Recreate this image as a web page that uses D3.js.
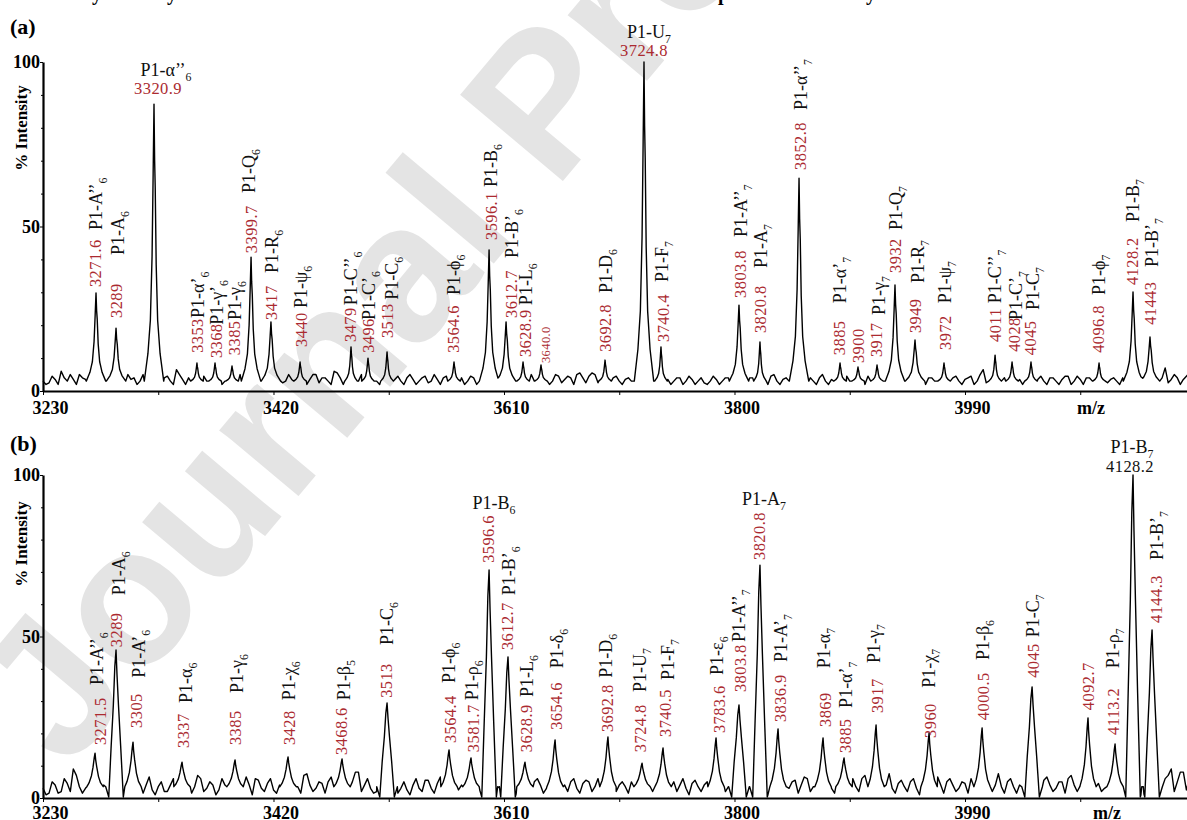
<!DOCTYPE html>
<html><head><meta charset="utf-8">
<script src="https://cdn.jsdelivr.net/npm/d3@7"></script>
<style>
html,body{margin:0;padding:0;background:#fff;}
svg{display:block;}
</style></head><body>
<svg id="chart" width="1187" height="820"></svg>
<script>
// ================= DATA =================
const mzMajorTicks = [3230, 3420, 3610, 3800, 3990];
const mzMinorTicks = [3325, 3515, 3705, 3895, 4085];
const intensityTicks = [0, 50, 100];
const intensityMinorTicks = [10, 20, 30, 40, 60, 70, 80, 90];

// baseline (noise) samples, every 5 m/z from 3230, plus the in-between samples (3232.5, 3237.5, ...)
const baselineStart = 3230, baselineStep = 5;
const baselineA = [
 3,2.5,3.5,6,3,3.5,5,3.5,4,3,
 3.5,3,4,3,5,4,3,4,3,3.5,
 4,3,6.5,3.5,4,3,5.5,3,4,3.5,
 3,4,3.5,4,3,3.5,4,3,3.5,4,
 3,3.5,4,3,3.5,5,4,3,6,4,
 3.5,4,3,3.5,4,3,4,3,3.5,3,
 4,3.5,3,4.5,3,3.5,4,3,3.5,4,
 3,4,3.5,3,4,3,3.5,4,3,3.5,
 4,3,3.5,4,3,4.5,3.5,4,5,4,
 4.5,5,4,3.5,4,3,3.5,3,4,3,
 3.5,4,3,3.5,3,4,3,3.5,3,2.5,
 3,3.5,3,4,3,3.5,3,4,3,3.5,
 4.5,3,3.5,3,4,3,3.5,3,4,3,
 3.5,3,4,3,3.5,3,4.5,3,3.5,4,
 3,3.5,4,3,3.5,3,4,3,3.5,3,
 4,3,3.5,4.5,3,6.5,4,3,3.5,4,
 3,3.5,4,3,3.5,3,4,3,3.5,4.5,
 3,3.5,4,3,4,5.5,3.5,3,4,3,
 3.5,4,3,3.5,4,7,3.5,4,3.5,5.5
];
const baselineMidA = [
 2,4.5,2,4,5,2,4,2.5,5,2,
 5,2,4.5,2,3.5,2,5,2,4.5,2,
 4.5,2,5,2,4,2.5,4.5,2,5,2,
 4.5,2,5,2.5,4.5,2,5,2,4,2.5,
 5,2,4.5,2,5,2.5,4,2,5.5,2,
 4.5,2,5,2,4,2,5,2.5,4.5,2,
 5,2,4,2.5,5,2,4.5,2,5,2,
 4.5,2,5,2,4,2.5,5,2,4.5,2,
 5,2,4.5,2,5,2.5,4.5,2,5.5,2.5,
 5.5,2.5,5,2,4.5,2,4,2,4.5,2,
 4,2,5,2,4,2,4.5,2,4,2,
 4.5,2,4,2,4.5,2,4,2.5,4.5,2,
 5,2,4,2,4.5,2,4,2,5,2,
 4,2,4.5,2,4,2,5,2,4.5,2,
 4.5,2,4,2,5,2,4,2,4.5,2,
 4.5,2,4,2,5,2.5,4.5,2,4,2.5,
 4,2,5,2,4.5,2,4,2,4.5,2,
 4.5,2,4,2,5,2.5,4,2,4.5,2,
 4,2,4.5,2,4,2.5,5,2,4.5,3
];
const baselineB = [
 3,1.5,4,2,4.5,9,3.5,3,5,3,
 4,3,4.5,3,2,5,3,4,2.5,3.5,
 2,4,3,5,2.5,3.5,6,3,4,2.5,
 4,3,5,2.5,4,6,3,4.5,2.5,4,
 3,5,3.5,7,4,3,4.5,5,8,4,
 6.5,5,8,4,3,2,4,3,5,3,
 2.5,4,3,5.5,3,4.5,6,5,7,4,
 5,6,4,3,4,3,3.5,6,4.5,5,
 3.5,5,4,3,4.5,7,4,5,3,4.5,
 5,3.5,4,5,3,4,3.5,5,4,6,
 5,6,4,3.5,5,4,3,4.5,3.5,4,
 3,5,4,3.5,4,5,3,4,3,5,
 4,7,5,3,5.5,4,6,3.5,4,5,
 3,4.5,3,5,3.5,6,4,3,7,4,
 3,4.5,3.5,5,3,4,6,3.5,4,5,
 4,3,4.5,6,3,5,7,4,3.5,5,
 3.5,4,3,4.5,3,5.5,4,3,5,6,
 4,5,3.5,6,4.5,3,4,5,3,4,
 3,4,2.5,4.5,3,6,9,5,8,6
];
const baselineMidB = [
 1,5,1.5,6,2,7,1.5,5,2,6,
 1.5,5.5,1,6,2,5,1.5,6.5,1,5,
 2,6,1,5.5,1.5,7,2,5,1,6,
 1.5,5,2,6.5,1,5.5,2,6,1.5,5,
 2,6,1.5,7.5,2,5,1.5,6.5,2,7,
 2.5,8,2,6,1.5,5,1,6,1.5,5,
 1,6,2,5.5,1.5,6.5,2,7,2.5,6,
 2,7,2,5,1.5,5.5,2,6.5,1.5,6,
 2,6,1.5,5,2,7.5,2,6,1.5,5.5,
 2,6,1.5,6.5,2,5,1.5,6,2,7,
 2,7,1.5,5.5,2,6,1,5.5,2,5,
 1.5,6,2,5,1.5,6,1,5,1.5,6,
 2,7.5,2,5,1.5,6.5,2,5,1.5,6,
 1.5,5.5,1,6,2,7,1.5,5,2,7.5,
 1.5,5.5,2,6,1,5,2,6.5,1.5,6,
 2,5,1.5,7,1.5,6,2,7.5,1.5,6,
 1.5,5,1,6,1.5,6.5,2,5,1.5,7,
 2,6.5,2,7,2,5,1.5,6,1,5.5,
 1.5,5,1,6,1.5,7,2,8,2.5,7
];

// Panel (a) peaks
const peakMzA  = [3273.7,3290.2,3321.5,3356.9,3371.8,3385.8,3401.5,3417.9,3441.9,3483.9,3497.9,3513.6,3568.8,3597.7,3611.7,3625.7,3640.5,3693.3,3725.4,3739.4,3803.7,3821.0,3853.2,3887.0,3901.8,3917.5,3932.3,3948.8,3972.7,4014.8,4028.8,4044.4,4100.5,4128.5,4142.5];
const peakIntA = [29.8,19.1,87.2,8.5,8.5,7.6,40.7,21.0,8.8,13.4,10.0,11.9,8.8,42.9,21.0,8.8,7.9,9.4,100,13.4,26.1,14.9,64.7,8.5,7.3,7.9,32.2,15.5,8.5,10.9,8.8,8.8,8.5,30.1,16.4];
const peakValueA = ["3271.6","3289","3320.9","3353","3368","3385","3399.7","3417","3440","3479","3496","3513","3564.6","3596.1","3612.7","3628.9","3640.0","3692.8","3724.8","3740.4","3803.8","3820.8","3852.8","3885","3900","3917","3932","3949","3972","4011","4028","4045","4096.8","4128.2","41443"];
const peakNameA = ["P1-A’’_6","P1-A_6","P1-α’’_6","P1-α’_6","P1-γ’_6","P1-γ_6","P1-Q_6","P1-R_6","P1-ψ_6","P1-C’’_6","P1-C’_6","P1-C_6","P1-ϕ_6","P1-B_6","P1-B’_6","P1-L_6","","P1-D_6","P1-U_7","P1-F_7","P1-A’’_7","P1-A_7","P1-α’’_7","P1-α’_7","","P1-γ_7","P1-Q_7","P1-R_7","P1-ψ_7","P1-C’’_7","P1-C’_7","P1-C_7","P1-ϕ_7","P1-B_7","P1-B’_7"];

// Panel (b) peaks
const peakMzB  = [3272.9,3290.2,3304.2,3344.6,3388.3,3432.0,3476.5,3513.6,3564.7,3582.8,3597.7,3613.3,3627.3,3652.1,3695.7,3723.8,3741.1,3784.8,3803.7,3821.0,3835.9,3873.0,3890.3,3916.7,3960.4,4004.1,4045.3,4091.4,4113.7,4128.5,4144.2];
const peakIntB = [13.9,45.8,17.3,11.1,11.8,12.7,12.1,29.4,14.9,12.4,70.6,43.7,11.1,18.0,18.9,10.8,15.5,18.6,28.8,72.1,21.4,18.6,12.4,22.6,20.1,21.7,34.4,24.8,16.7,100,52.0];
const peakValueB = ["3271.5","3289","3305","3337","3385","3428","3468.6","3513","3564.4","3581.7","3596.6","3612.7","3628.9","3654.6","3692.8","3724.8","3740.5","3783.6","3803.8","3820.8","3836.9","3869","3885","3917","3960","4000.5","4045","4092.7","4113.2","4128.2","4144.3"];
const peakNameB = ["P1-A’’_6","P1-A_6","P1-A’_6","P1-α_6","P1-γ_6","P1-χ_6","P1-β_5","P1-C_6","P1-ϕ_6","P1-ρ_6","P1-B_6","P1-B’_6","P1-L_6","P1-δ_6","P1-D_6","P1-U_7","P1-F_7","P1-ε_6","P1-A’’_7","P1-A_7","P1-A’_7","P1-α_7","P1-α’_7","P1-γ_7","P1-χ_7","P1-β_6","P1-C_7","","P1-ρ_7","P1-B_7","P1-B’_7"];

// ================= LAYOUT (label placement, separate from data) =================
// [value-label bottom (% units), name-label bottom (% units), value dx px, name dx px, mode, option]
const labelLayoutA = [
 [31.6,48.9,0,0],[22.2,41.3,1,2],[90.3,95.7,4,12,'h'],[11.6,22.2,1,1],[10.0,20.1,2,2],
 [10.9,21.6,3,3],[41.9,60.2,0,-2],[21.6,35.9,1,1],[13.4,25.2,1,1],[14.9,26.1,0,0],
 [11.6,21.6,1,1],[16.1,27.7,1,5],[11.6,29.2,0,0],[45.9,62.0,2,2],[22.2,40.4,5,6],
 [10.3,26.1,3,3],[8.5,null,5,0,'v','small'],[11.9,29.8,1,1],[101.8,107.3,0,5,'h'],[14.9,33.1,3,1],
 [28.3,46.8,2,2],[17.6,37.4,1,1],[67.2,85.4,2,2],[10.9,26.7,0,0],[8.5,null,1,0],
 [10.3,23.1,0,2],[35.9,48.9,1,1],[17.6,32.8,1,3],[12.5,26.7,2,1],[14.9,26.7,0,0],
 [11.9,21.6,2,4],[10.9,24.6,0,2],[11.6,29.2,0,0],[32.2,51.4,0,0],[20.1,37.7,1,2]
];
const labelLayoutB = [
 [16.4,35.0,6,2],[46.7,62.8,1,3],[21.7,37.2,4,6],[15.5,29.4,2,4],[16.4,32.5,1,2],
 [16.4,30.3,1,1],[13.3,30.3,0,2],[31.0,47.4,0,0],[17.0,35.6,2,0],[14.2,30.3,3,1],
 [72.8,89.5,-1,5,'vh'],[45.8,62.8,0,1],[14.2,31.3,2,2],[21.1,40.2,1,2],[20.4,37.2,0,-2],
 [14.2,32.8,-1,-2],[18.9,36.5,3,5],[20.1,38.1,3,1],[32.8,48.3,2,0],[73.7,90.7,0,4,'vh'],
 [23.5,42.1,3,3],[22.0,40.2,2,1],[13.9,27.9,2,2],[26.3,41.8,1,-2],[18.6,34.1,1,0],
 [24.1,42.7,1,1],[37.2,49.8,1,1],[27.2,null,1,0],[19.5,40.2,-2,-2],[100.9,106.8,-3,-1,'h','black'],
 [54.2,73.7,4,5]
];

// ================= DRAWING =================
const svg = d3.select('#chart');
const SERIF = "'Liberation Serif','Times New Roman',Times,serif";
const RED = '#ab2a30';

// watermark
svg.append('text')
  .attr('transform', 'translate(67,772) rotate(-50)')
  .attr('font-family', "'Liberation Sans',Arial,sans-serif")
  .attr('font-weight', 'bold')
  .attr('font-size', 195)
  .attr('fill', '#e4e4e4')
  .text('Journal Pre-proof');

// cut-off text line at the very top (only descenders visible)
[[92,'y'],[167,'y'],[718,'p'],[866,'y']].forEach(([tx,ch]) => {
  svg.append('text').attr('x', tx).attr('y', 0).attr('font-family', SERIF)
    .attr('font-weight', 'bold').attr('font-size', 20).attr('fill', '#000').text(ch);
});

const x = d3.scaleLinear().domain([3230, 4173]).range([43, 1187]);

const tmplA = [[-8,0],[-5,0.1],[-3,0.22],[-1.6,0.45],[-0.7,0.75],[0,1],[0.5,0.8],[1,0.7],[1.8,0.42],[3,0.22],[5,0.1],[8,0]];
const tmplB = [[-9,0],[-6.5,0.12],[-4,0.32],[-2.2,0.58],[-0.9,0.86],[0,1],[0.7,0.8],[1.8,0.6],[3.8,0.3],[6,0.12],[9,0]];
const tmplBbig = [[-8.5,0],[-6,'dip'],[-4,0.3],[-2.2,0.6],[-1,0.88],[0,1],[0.8,0.82],[2,0.6],[3.8,0.3],[6,'dip'],[8.5,0]];

function shapeA(m, h, base) {
  const s = h < 15 ? 0.65 : 1;
  return tmplA.map(([o, f]) => [m + o * s, base + f * (h - base)]);
}
function shapeB(m, h, base) {
  if (h >= 25) return tmplBbig.map(([o, f]) => [m + o, f === 'dip' ? 0.3 : base + f * (h - base)]);
  const s = 0.75;
  return tmplB.map(([o, f]) => [m + o * s, base + f * (h - base)]);
}

function buildTrace(peakMz, peakInt, baseline, baselineMid, base, shapeFn) {
  const shapes = peakMz.map((m, i) => shapeFn(m, peakInt[i], base));
  const evalShape = (pts, m) => {
    if (m < pts[0][0] || m > pts[pts.length - 1][0]) return null;
    for (let k = 1; k < pts.length; k++) {
      if (m <= pts[k][0]) {
        const [x0, y0] = pts[k - 1], [x1, y1] = pts[k];
        return x1 === x0 ? y1 : y0 + (y1 - y0) * (m - x0) / (x1 - x0);
      }
    }
    return pts[pts.length - 1][1];
  };
  const cand = [];
  baseline.forEach((v, i) => cand.push({ m: baselineStart + i * baselineStep, v }));
  baselineMid.forEach((v, i) => cand.push({ m: baselineStart + (i + 0.5) * baselineStep, v }));
  shapes.forEach(pts => pts.forEach(p => cand.push({ m: p[0], v: null })));
  cand.sort((a, b) => a.m - b.m);
  const out = [];
  cand.forEach(c => {
    let best = null;
    shapes.forEach(pts => { const v = evalShape(pts, c.m); if (v !== null && (best === null || v > best)) best = v; });
    if (best !== null) out.push([c.m, best]);
    else if (c.v !== null) out.push([c.m, c.v]);
  });
  return out;
}

function rotLabel(g, cx, yb, main, sub, size, color, ls) {
  const t = g.append('text')
    .attr('transform', `translate(${cx + 0.33 * size},${yb}) rotate(-90)`)
    .attr('font-family', SERIF).attr('font-size', size).attr('fill', color);
  if (ls) t.attr('letter-spacing', ls);
  t.append('tspan').text(main);
  if (sub) t.append('tspan').attr('dy', size * 0.28).attr('font-size', size * 0.66).text(sub);
}
function horLabel(g, cx, yb, main, sub, size, color, ls) {
  const t = g.append('text').attr('x', cx).attr('y', yb).attr('text-anchor', 'middle')
    .attr('font-family', SERIF).attr('font-size', size).attr('fill', color);
  if (ls) t.attr('letter-spacing', ls);
  t.append('tspan').text(main);
  if (sub) t.append('tspan').attr('dy', size * 0.28).attr('font-size', size * 0.66).text(sub);
}

function drawPanel(cfg) {
  const y = d3.scaleLinear().domain([0, 100]).range([cfg.y0, cfg.y100]);
  const g = svg.append('g');

  // trace
  const pts = buildTrace(cfg.peakMz, cfg.peakInt, cfg.baseline, cfg.baselineMid, cfg.base, cfg.shapeFn);
  const line = d3.line().x(d => x(d[0])).y(d => y(d[1]));
  g.append('path').datum(pts).attr('d', line)
    .attr('fill', 'none').attr('stroke', '#000').attr('stroke-width', 1.4).attr('stroke-linejoin', 'round');

  // axes
  const xAxis = g.append('g').attr('transform', `translate(0,${cfg.y0})`)
    .call(d3.axisBottom(x).tickValues(mzMajorTicks).tickSize(4).tickSizeOuter(0).tickFormat(d3.format('d')));
  g.append('g').attr('transform', `translate(0,${cfg.y0})`)
    .call(d3.axisBottom(x).tickValues(mzMinorTicks).tickSize(4).tickSizeOuter(0).tickFormat(''))
    .select('.domain').remove();
  xAxis.select('.domain').attr('stroke-width', 2.2);
  xAxis.selectAll('text').attr('x', 7).attr('y', cfg.xLabelDy).attr('dy', 0)
    .attr('font-family', SERIF).attr('font-weight', 'bold').attr('font-size', 18).attr('fill', '#000');

  const yAxis = g.append('g').attr('transform', `translate(${x(3230)},0)`)
    .call(d3.axisLeft(y).tickValues(intensityTicks).tickSize(3).tickSizeOuter(0));
  g.append('g').attr('transform', `translate(${x(3230)},0)`)
    .call(d3.axisLeft(y).tickValues(intensityMinorTicks).tickSize(2).tickSizeOuter(0).tickFormat(''))
    .select('.domain').remove();
  yAxis.select('.domain').attr('stroke-width', 2.2);
  yAxis.selectAll('text').attr('x', -3)
    .attr('font-family', SERIF).attr('font-weight', 'bold').attr('font-size', 18).attr('fill', '#000');

  // axis titles
  g.append('text').attr('transform', `translate(27,${cfg.titleY}) rotate(-90)`).attr('text-anchor', 'middle')
    .attr('font-family', SERIF).attr('font-weight', 'bold').attr('font-size', 17).text('% Intensity');
  g.append('text').attr('x', cfg.mzX).attr('y', cfg.y0 + cfg.xLabelDy).attr('text-anchor', 'middle')
    .attr('font-family', SERIF).attr('font-weight', 'bold').attr('font-size', 18).text('m/z');
  g.append('text').attr('x', 10).attr('y', cfg.tagY)
    .attr('font-family', SERIF).attr('font-weight', 'bold').attr('font-size', 22).text(cfg.tag);

  // peak labels
  cfg.peakMz.forEach((m, i) => {
    const L = cfg.layout[i];
    const [nv, mv, dn, dm] = L;
    const mode = L[4] || 'v';
    const opt = L[5];
    const px = x(m);
    const valColor = opt === 'black' ? '#111' : RED;
    const valSize = opt === 'small' ? 12.5 : 16.5;
    const parts = cfg.names[i] ? cfg.names[i].split('_') : null;
    if (mode === 'h') {
      horLabel(g, px + dn, y(nv), cfg.values[i], null, valSize, valColor, 0.4);
      if (parts) horLabel(g, px + dm, y(mv), parts[0], parts[1], 18, '#111');
    } else {
      rotLabel(g, px + dn, y(nv), cfg.values[i], null, valSize, valColor, 0.4);
      if (parts) {
        if (mode === 'vh') horLabel(g, px + dm, y(mv), parts[0], parts[1], 18, '#111');
        else rotLabel(g, px + dm, y(mv), parts[0], parts[1], 18, '#111');
      }
    }
  });
}

drawPanel({
  y0: 391, y100: 62, baseline: baselineA, baselineMid: baselineMidA, base: 3, shapeFn: shapeA,
  peakMz: peakMzA, peakInt: peakIntA, values: peakValueA, names: peakNameA, layout: labelLayoutA,
  xLabelDy: 23, titleY: 128, mzX: 1091, tag: '(a)', tagY: 34
});
drawPanel({
  y0: 798, y100: 475, baseline: baselineB, baselineMid: baselineMidB, base: 3.5, shapeFn: shapeB,
  peakMz: peakMzB, peakInt: peakIntB, values: peakValueB, names: peakNameB, layout: labelLayoutB,
  xLabelDy: 21, titleY: 544, mzX: 1107, tag: '(b)', tagY: 451
});
</script>
</body></html>
